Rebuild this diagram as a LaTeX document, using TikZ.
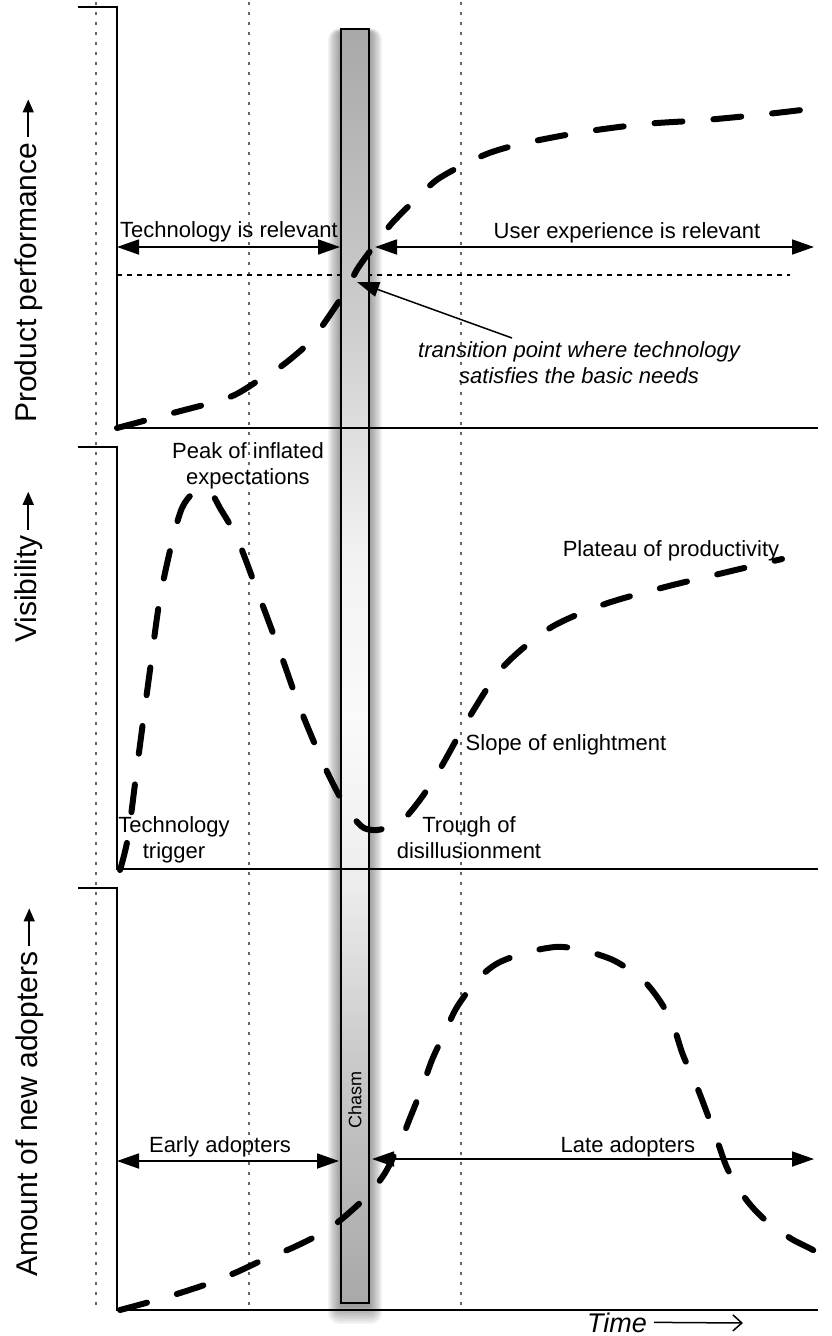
\documentclass[tikz,border=0pt]{standalone}
\usepackage{fontspec}
\setmainfont{Liberation Sans}
\usetikzlibrary{arrows.meta}
\definecolor{dotgray}{gray}{0.4}
\begin{document}
\begin{tikzpicture}[x=1pt,y=-1pt,
  axisline/.style={line width=1.8pt},
  guideline/.style={dotgray, line width=1.4pt, dash pattern=on 2.5pt off 7.5pt},
  threshline/.style={line width=1.4pt, dash pattern=on 5pt off 5pt},
  curveline/.style={line width=6pt, line cap=round, dash pattern=on 28pt off 31pt},
  spanarrow/.style={line width=1.8pt, {Triangle[length=22pt,width=15pt]}-{Triangle[length=22pt,width=15pt]}},
  uparrow/.style={line width=1.5pt, -{Triangle[length=13pt,width=11pt]}},
  lbl/.style={font=\fontsize{22}{26.5}\selectfont, inner sep=0pt},
  axlbl/.style={font=\fontsize{30}{36}\selectfont, rotate=90, anchor=base west, inner sep=0pt},
]
\useasboundingbox (0,0) rectangle (831,1336);

% dotted guide lines
\draw[guideline] (96,2) -- (96,1310);
\draw[guideline] (249,2) -- (249,1310);
\draw[guideline] (461,2) -- (461,1310);

% threshold line
\draw[threshline] (117,275) -- (790,275);

% chasm shadow
\foreach \i in {1,...,12}{
  \fill[black,opacity=0.04,rounded corners=\i pt] ({341-1.1*\i},{33-0.4*\i}) rectangle ({369+1.1*\i},{1305+1.6*\i});
}
% chasm gradient
\foreach \ya/\yb/\ca/\cb in {29/330/34/19, 330/560/19/5, 560/720/5/2, 720/880/2/7, 880/1060/7/21, 1060/1303/21/34}{
  \shade[top color=black!\ca, bottom color=black!\cb] (341,\ya) rectangle (369,\yb);
}
% chasm bar
\node[draw, line width=1.8pt, minimum width=28pt, minimum height=1274pt, inner sep=0pt] (chasm) at (355,666) {};
\node[rotate=90, font=\fontsize{18}{22}\selectfont, inner sep=0pt] (chasmlbl) at (355,1100) {Chasm};

% axes
\draw[axisline] (78,7) -- (117,7) -- (117,428) -- (818,428);
\draw[axisline] (78,447) -- (117,447) -- (117,869) -- (818,869);
\draw[axisline] (78,888) -- (117,888) -- (117,1310) -- (818,1310);

% curves
\draw[curveline] plot[smooth, tension=0.5] coordinates {(117,428) (173,413) (230,397) (262,378) (283,365) (310,342) (325,322) (345,292) (358,268) (377,242) (393,222) (418,197) (438,179) (467,163) (492,152) (525,143) (583,132) (645,124) (705,120) (767,114) (818,108)};

\draw[curveline] plot[smooth, tension=0.5] coordinates {(120,870) (128,837) (138,760) (150,670) (160,598) (173,538) (182,508) (192,494) (203,489) (212,494) (220,508) (237,538) (258,593) (280,652) (300,708) (323,763) (340,797) (353,817) (364,828) (377,830) (392,826) (405,818) (422,797) (440,769) (470,716) (503,667) (550,628) (605,604) (665,587) (723,573) (782,559)};

\draw[curveline] plot[smooth, tension=0.5] coordinates {(120,1310) (153,1301) (180,1293) (210,1283) (237,1272) (267,1258) (292,1248) (322,1233) (343,1218) (368,1195) (385,1173) (400,1143) (410,1118) (422,1088) (432,1060) (445,1032) (457,1007) (477,980) (498,963) (528,952) (555,947) (572,948) (590,952) (615,961) (642,979) (660,1001) (673,1025) (683,1055) (697,1087) (707,1113) (718,1143) (728,1170) (745,1198) (763,1218) (790,1238) (813,1250) (831,1262)};

% span arrows
\coordinate (techL) at (117,247);
\coordinate (techR) at (340,247);
\coordinate (uxL) at (375,247);
\coordinate (uxR) at (814,247);
\coordinate (earlyL) at (117,1161);
\coordinate (earlyR) at (339,1161);
\coordinate (lateL) at (372,1159);
\coordinate (lateR) at (814,1159);
\draw[spanarrow] (techL) -- (techR);
\draw[spanarrow] (uxL) -- (uxR);
\draw[spanarrow] (earlyL) -- (earlyR);
\draw[spanarrow] (lateL) -- (lateR);

% labels
\node[lbl, anchor=base] (techrel) at (229,237) {Technology is relevant};
\node[lbl, anchor=base] (uxrel) at (627,238) {User experience is relevant};
\node[lbl, anchor=north, align=center, font=\fontsize{22}{26}\selectfont\itshape] (trans) at (579,341) {transition point where technology\\satisfies the basic needs};
\node[lbl, anchor=north, align=center] (peak) at (248,442) {Peak of inflated\\expectations};
\node[lbl, anchor=north, align=center] (trigger) at (174,816) {Technology\\trigger};
\node[lbl, anchor=north, align=center] (trough) at (469,816) {Trough of\\disillusionment};
\node[lbl, anchor=base] (slope) at (566,750) {Slope of enlightment};
\node[lbl, anchor=base] (plateau) at (671,556) {Plateau of productivity};
\node[lbl, anchor=base] (early) at (220,1152) {Early adopters};
\node[lbl, anchor=base] (late) at (628,1152) {Late adopters};

% transition pointer
\coordinate (tstart) at (512,338);
\coordinate (tpoint) at (357,282);
\draw[line width=1.5pt, -{Triangle[length=22pt,width=15pt]}] (tstart) -- (tpoint);

% axis labels
\node[axlbl] (ylab1) at (36,423) {Product performance};
\node[axlbl] (ylab2) at (36,643) {Visibility};
\node[axlbl] (ylab3) at (37,1277) {Amount of new adopters};
\draw[uparrow] ([yshift=5pt]ylab1.east) -- ++(0,-38);
\draw[uparrow] ([yshift=5pt]ylab2.east) -- ++(0,-38);
\draw[uparrow] ([yshift=5pt]ylab3.east) -- ++(0,-38);

% time
\node[font=\fontsize{27}{32}\selectfont\itshape, anchor=base, inner sep=0pt] (time) at (617,1332) {Time};
\coordinate (timeR) at (743,1323);
\draw[line width=1.5pt, -{Straight Barb[length=9pt,width=16pt]}] ([xshift=7pt]time.east) -- (timeR);
\end{tikzpicture}
\end{document}
